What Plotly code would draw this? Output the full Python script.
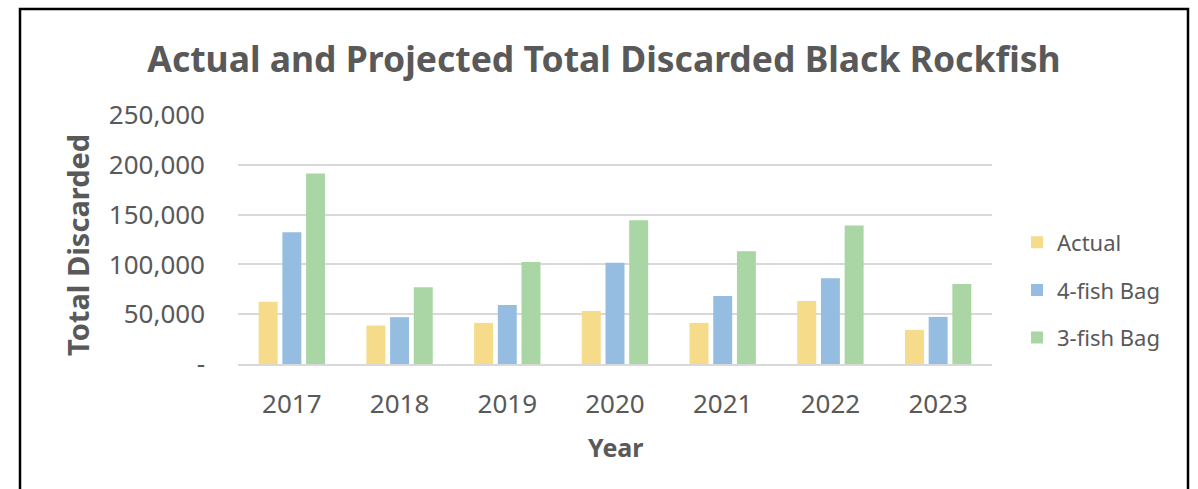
import plotly.graph_objects as go

years = ["2017", "2018", "2019", "2020", "2021", "2022", "2023"]
actual = [62600, 38600, 41300, 53300, 41300, 63300, 34300]
bag_4fish = [132300, 47000, 59300, 101600, 68300, 86000, 47300]
bag_3fish = [191300, 77000, 102300, 144300, 113300, 139000, 80300]

y_ticks = [0, 50000, 100000, 150000, 200000, 250000]
y_tick_labels = ["-", "50,000", "100,000", "150,000", "200,000", "250,000"]

font = "Noto Sans, Open Sans, sans-serif"
grey = "#595959"

fig = go.Figure()
series = [("Actual", actual, "#F5DB8A"), ("4-fish Bag", bag_4fish, "#95BDE1"), ("3-fish Bag", bag_3fish, "#A9D6A4")]
for name, vals, color in series:
    fig.add_trace(go.Bar(x=years, y=vals, name=name, legendgroup=name,
                         marker=dict(color=color, line=dict(width=0))))

# plot area spans x 238..992 and y 115..364 px
fig.update_layout(
    width=1198, height=489,
    margin=dict(l=238, r=206, t=115, b=125, autoexpand=False),
    paper_bgcolor="white", plot_bgcolor="white",
    barmode="group", bargap=0.34, bargroupgap=0.2,
    font=dict(family=font, color=grey),
    title=dict(text="<b>Actual and Projected Total Discarded Black Rockfish</b>",
               x=604 / 1198, xref="container", xanchor="center",
               y=1 - 60 / 489, yref="container", yanchor="middle",
               font=dict(size=35.5, color=grey)),
    legend=dict(x=1.0332, xanchor="left", y=0.297, yanchor="middle",
                font=dict(size=22, color=grey), tracegroupgap=16,
                itemwidth=30),
    showlegend=True,
    shapes=[dict(type="rect", xref="paper", yref="paper",
                 x0=(20 - 238) / 754, x1=(1188 - 238) / 754,
                 y0=(364 - 495) / 249, y1=(364 - 9) / 249,
                 line=dict(color="black", width=2.5))],
    annotations=[
        dict(text="<b>Total Discarded</b>", xref="paper", yref="paper",
             x=(77 - 238) / 754, y=(364 - 245) / 249, textangle=-90,
             showarrow=False, xanchor="center", yanchor="middle",
             font=dict(size=29, color=grey)),
        dict(text="<b>Year</b>", xref="paper", yref="paper",
             x=(615 - 238) / 754, y=(364 - 447) / 249,
             showarrow=False, xanchor="center", yanchor="middle",
             font=dict(size=25, color=grey)),
    ],
)

fig.update_xaxes(
    showgrid=False, showline=True, linecolor="#D9D9D9", linewidth=2,
    tickfont=dict(size=26, color=grey), ticklabelstandoff=16, automargin=False,
)
fig.update_yaxes(
    range=[0, 250000], tickvals=y_ticks, ticktext=y_tick_labels,
    showgrid=True, gridcolor="#D9D9D9", gridwidth=1.5, zeroline=False,
    tickfont=dict(size=26, color=grey), ticklabelstandoff=32, automargin=False,
)

fig.write_html("out.html", config={"displayModeBar": False},
               post_script="document.body.style.margin='0';")
